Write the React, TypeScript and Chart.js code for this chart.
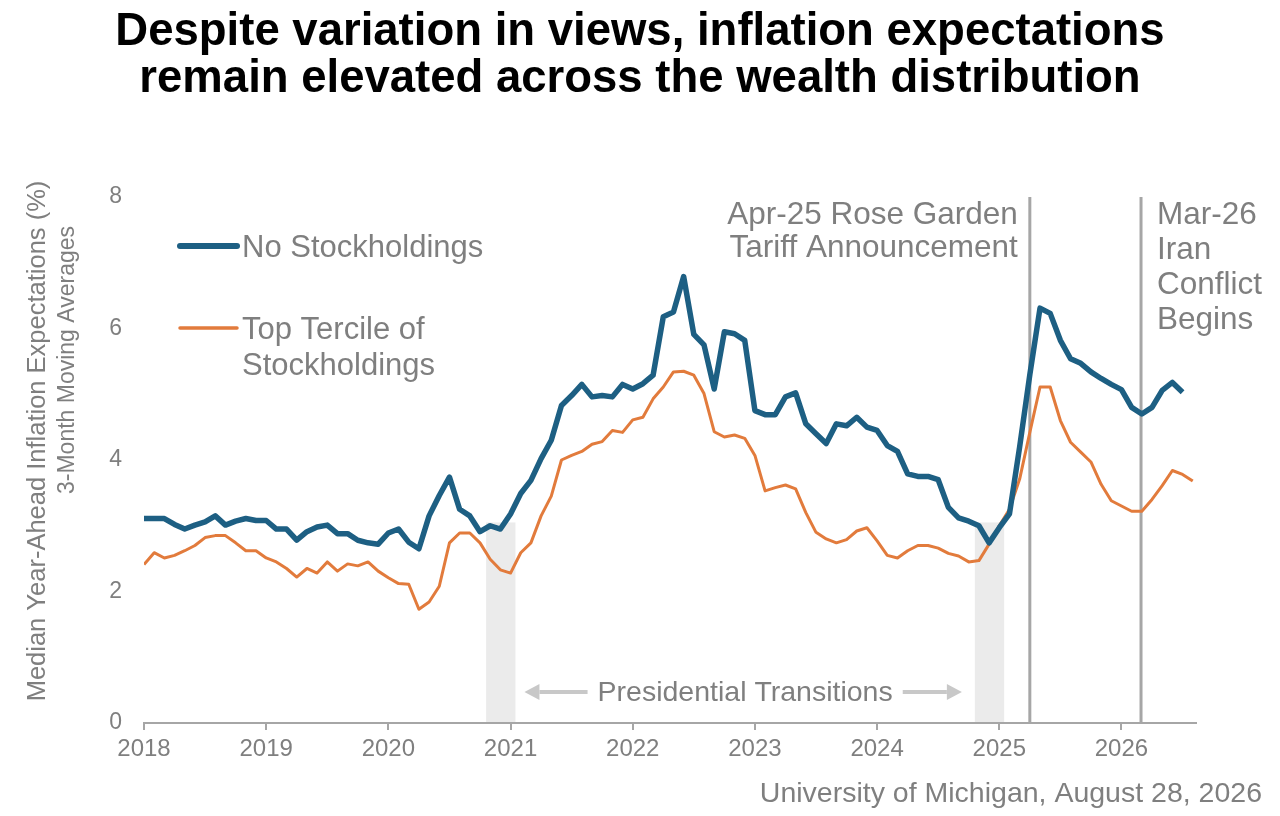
import { useEffect, useRef } from 'react';
import { Chart, registerables } from 'chart.js';

Chart.register(...registerables);

const FONT = '"Liberation Sans", Arial, sans-serif';
const GRAY = '#7f7f7f';
const BLUE = '#1d5f83';
const ORANGE = '#e27b3c';

// monthly 3-month moving averages, Jan 2018 onwards
const startYear = 2018;
const noStockholdings = [
  3.11, 3.11, 3.11, 3.02, 2.95, 3.01, 3.06, 3.15, 3.01, 3.07, 3.11, 3.08,
  3.08, 2.95, 2.95, 2.78, 2.91, 2.98, 3.01, 2.88, 2.88, 2.78, 2.74, 2.72,
  2.89, 2.95, 2.75, 2.65, 3.15, 3.46, 3.74, 3.25, 3.15, 2.91, 3.0, 2.95,
  3.18, 3.49, 3.69, 4.02, 4.3, 4.83, 4.98, 5.15, 4.96, 4.98, 4.96, 5.15,
  5.08, 5.16, 5.29, 6.18, 6.25, 6.79, 5.91, 5.75, 5.08, 5.95, 5.92, 5.82,
  4.75, 4.69, 4.69, 4.96, 5.02, 4.55, 4.4, 4.25, 4.55, 4.52, 4.65, 4.5,
  4.45, 4.22, 4.13, 3.79, 3.75, 3.75, 3.7, 3.28, 3.12, 3.07, 3.0, 2.74,
  2.97, 3.18, 4.2, 5.3, 6.31, 6.23, 5.82, 5.54, 5.47, 5.34, 5.24, 5.15,
  5.07, 4.8, 4.7, 4.8, 5.06, 5.18, 5.03,
];
const topTercile = [
  2.41, 2.59, 2.51, 2.55, 2.62, 2.7, 2.82, 2.85, 2.85, 2.74, 2.62, 2.62,
  2.51, 2.45, 2.35, 2.22, 2.35, 2.28, 2.45, 2.31, 2.42, 2.39, 2.45, 2.31,
  2.21, 2.12, 2.11, 1.73, 1.84, 2.08, 2.74, 2.89, 2.89, 2.74, 2.49, 2.33,
  2.28, 2.59, 2.74, 3.15, 3.45, 4.0, 4.07, 4.13, 4.24, 4.28, 4.45, 4.42,
  4.61, 4.65, 4.93, 5.11, 5.34, 5.35, 5.29, 5.01, 4.43, 4.35, 4.38, 4.33,
  4.07, 3.53, 3.58, 3.62, 3.56, 3.2, 2.9, 2.8, 2.74, 2.79, 2.92, 2.97,
  2.77, 2.55, 2.51, 2.62, 2.7, 2.7, 2.66, 2.58, 2.54, 2.45, 2.47, 2.72,
  3.0, 3.25, 3.71, 4.42, 5.11, 5.11, 4.6, 4.27, 4.12, 3.97, 3.63, 3.38,
  3.3, 3.22, 3.22, 3.4, 3.61, 3.84, 3.78, 3.68,
];

const yearTicks = [2018, 2019, 2020, 2021, 2022, 2023, 2024, 2025, 2026];
const yTicks = [0, 2, 4, 6, 8];

const transitionStart = [2020.8, 2024.8];
const transitionEnd = [2021.04, 2025.04];
const transitionTop = 3.05;

const eventDates = [2025.25, 2026.16];
const eventLabels = [
  ['Apr-25 Rose Garden', 'Tariff Announcement'],
  ['Mar-26', 'Iran', 'Conflict', 'Begins'],
];

const titleLines = [
  'Despite variation in views, inflation expectations',
  'remain elevated across the wealth distribution',
];
const yTitleLines = ['Median Year-Ahead Inflation Expectations (%)', '3-Month Moving Averages'];
const seriesNames = ['No Stockholdings', ['Top Tercile of', 'Stockholdings']];
const sourceNote = 'University of Michigan, August 28, 2026';

const toPoints = (vals: number[]) => vals.map((v, i) => ({ x: startYear + i / 12, y: v }));

function arrow(ctx: CanvasRenderingContext2D, from: number, to: number, y: number) {
  const dir = to > from ? 1 : -1;
  const head = 15;
  ctx.beginPath();
  ctx.moveTo(from, y);
  ctx.lineTo(to - dir * head, y);
  ctx.stroke();
  ctx.beginPath();
  ctx.moveTo(to, y);
  ctx.lineTo(to - dir * head, y - 8);
  ctx.lineTo(to - dir * head, y + 8);
  ctx.closePath();
  ctx.fill();
}

const overlay = {
  id: 'overlay',
  beforeDatasetsDraw(chart: Chart) {
    const { ctx, chartArea } = chart;
    const x = chart.scales.x;
    const y = chart.scales.y;
    ctx.save();
    ctx.fillStyle = '#ebebeb';
    const yTop = y.getPixelForValue(transitionTop);
    transitionStart.forEach((s, i) => {
      const x0 = x.getPixelForValue(s);
      const x1 = x.getPixelForValue(transitionEnd[i]);
      ctx.fillRect(x0, yTop, x1 - x0, chartArea.bottom - 1 - yTop);
    });
    ctx.strokeStyle = '#a6a6a6';
    ctx.lineWidth = 3;
    eventDates.forEach((d) => {
      const px = x.getPixelForValue(d);
      ctx.beginPath();
      ctx.moveTo(px, chartArea.top);
      ctx.lineTo(px, chartArea.bottom);
      ctx.stroke();
    });
    ctx.restore();
  },
  afterDraw(chart: Chart) {
    const { ctx, chartArea } = chart;
    const x = chart.scales.x;
    ctx.save();

    // title
    ctx.fillStyle = '#000';
    ctx.textAlign = 'center';
    ctx.textBaseline = 'alphabetic';
    ctx.font = `bold 45.5px ${FONT}`;
    ctx.fillText(titleLines[0], 640, 45);
    ctx.fillText(titleLines[1], 640, 92);

    // y axis title
    ctx.fillStyle = GRAY;
    ctx.textBaseline = 'middle';
    ctx.font = `25.5px ${FONT}`;
    ctx.save();
    ctx.translate(38, 441);
    ctx.rotate(-Math.PI / 2);
    ctx.fillText(yTitleLines[0], 0, 0);
    ctx.restore();
    ctx.font = `23px ${FONT}`;
    ctx.save();
    ctx.translate(68, 360);
    ctx.rotate(-Math.PI / 2);
    ctx.fillText(yTitleLines[1], 0, 0);
    ctx.restore();

    // legend
    const lx = chartArea.left + 36;
    ctx.lineCap = 'round';
    ctx.strokeStyle = BLUE;
    ctx.lineWidth = 6;
    ctx.beginPath();
    ctx.moveTo(lx, 246);
    ctx.lineTo(lx + 57, 246);
    ctx.stroke();
    ctx.strokeStyle = ORANGE;
    ctx.lineWidth = 3.5;
    ctx.beginPath();
    ctx.moveTo(lx, 328);
    ctx.lineTo(lx + 57, 328);
    ctx.stroke();
    ctx.font = `31px ${FONT}`;
    ctx.textAlign = 'left';
    ctx.textBaseline = 'alphabetic';
    ctx.fillText(seriesNames[0] as string, lx + 62, 257);
    const tt = seriesNames[1] as string[];
    ctx.fillText(tt[0], lx + 62, 339);
    ctx.fillText(tt[1], lx + 62, 375);

    // event labels
    ctx.font = `31.5px ${FONT}`;
    const e0 = x.getPixelForValue(eventDates[0]);
    ctx.textAlign = 'right';
    eventLabels[0].forEach((t, i) => ctx.fillText(t, e0 - 12, 224 + i * 33));
    const e1 = x.getPixelForValue(eventDates[1]);
    ctx.textAlign = 'left';
    eventLabels[1].forEach((t, i) => ctx.fillText(t, e1 + 16, 224 + i * 35));

    // presidential transitions
    const pEnd = x.getPixelForValue(transitionEnd[0]);
    const pStart = x.getPixelForValue(transitionStart[1]);
    const mid = (pEnd + pStart) / 2;
    ctx.font = `28.5px ${FONT}`;
    ctx.textAlign = 'center';
    ctx.fillText('Presidential Transitions', mid, 701);
    const half = ctx.measureText('Presidential Transitions').width / 2;
    ctx.strokeStyle = '#c8c8c8';
    ctx.fillStyle = '#c8c8c8';
    ctx.lineWidth = 4;
    ctx.lineCap = 'butt';
    arrow(ctx, mid - half - 10, pEnd + 9, 692);
    arrow(ctx, mid + half + 10, pStart - 13, 692);

    // source
    ctx.fillStyle = GRAY;
    ctx.font = `28.5px ${FONT}`;
    ctx.textAlign = 'right';
    ctx.fillText(sourceNote, 1262, 802);

    ctx.restore();
  },
};

export default function App() {
  const canvasRef = useRef<HTMLCanvasElement>(null);

  useEffect(() => {
    document.body.style.margin = '0';
    if (!canvasRef.current) return;

    const chart = new Chart(canvasRef.current, {
      type: 'line',
      data: {
        datasets: [
          {
            label: 'No Stockholdings',
            data: toPoints(noStockholdings),
            borderColor: BLUE,
            borderWidth: 5.5,
            pointRadius: 0,
            borderJoinStyle: 'round',
            tension: 0,
          },
          {
            label: 'Top Tercile of Stockholdings',
            data: toPoints(topTercile),
            borderColor: ORANGE,
            borderWidth: 3,
            pointRadius: 0,
            borderJoinStyle: 'round',
            tension: 0,
          },
        ],
      },
      options: {
        animation: false,
        responsive: true,
        maintainAspectRatio: false,
        layout: { padding: { top: 197, right: 84, left: 0, bottom: 0 } },
        plugins: {
          legend: { display: false },
          title: { display: false },
          tooltip: { enabled: false },
        },
        scales: {
          x: {
            type: 'linear',
            min: 2018,
            max: 2026.61,
            afterBuildTicks: (scale) => {
              scale.ticks = yearTicks.map((v) => ({ value: v }));
            },
            afterFit: (scale) => {
              scale.height = 93;
            },
            ticks: {
              callback: (v) => String(v),
              color: GRAY,
              font: { family: FONT, size: 24 },
              padding: 5,
              maxRotation: 0,
              autoSkip: false,
            },
            grid: {
              drawOnChartArea: false,
              drawTicks: true,
              tickLength: 7,
              color: '#a6a6a6',
              lineWidth: 2,
            },
            border: { display: true, color: '#a6a6a6', width: 2 },
          },
          y: {
            min: 0,
            max: 8,
            afterBuildTicks: (scale) => {
              scale.ticks = yTicks.map((v) => ({ value: v }));
            },
            afterFit: (scale) => {
              scale.width = 144;
            },
            ticks: {
              color: GRAY,
              font: { family: FONT, size: 23 },
              padding: 22,
            },
            grid: { display: false, drawTicks: false },
            border: { display: false },
          },
        },
      },
      plugins: [overlay],
    });

    return () => {
      chart.destroy();
    };
  }, []);

  return (
    <div style={{ width: 1280, height: 816, position: 'relative', background: '#fff' }}>
      <canvas ref={canvasRef}></canvas>
    </div>
  );
}
